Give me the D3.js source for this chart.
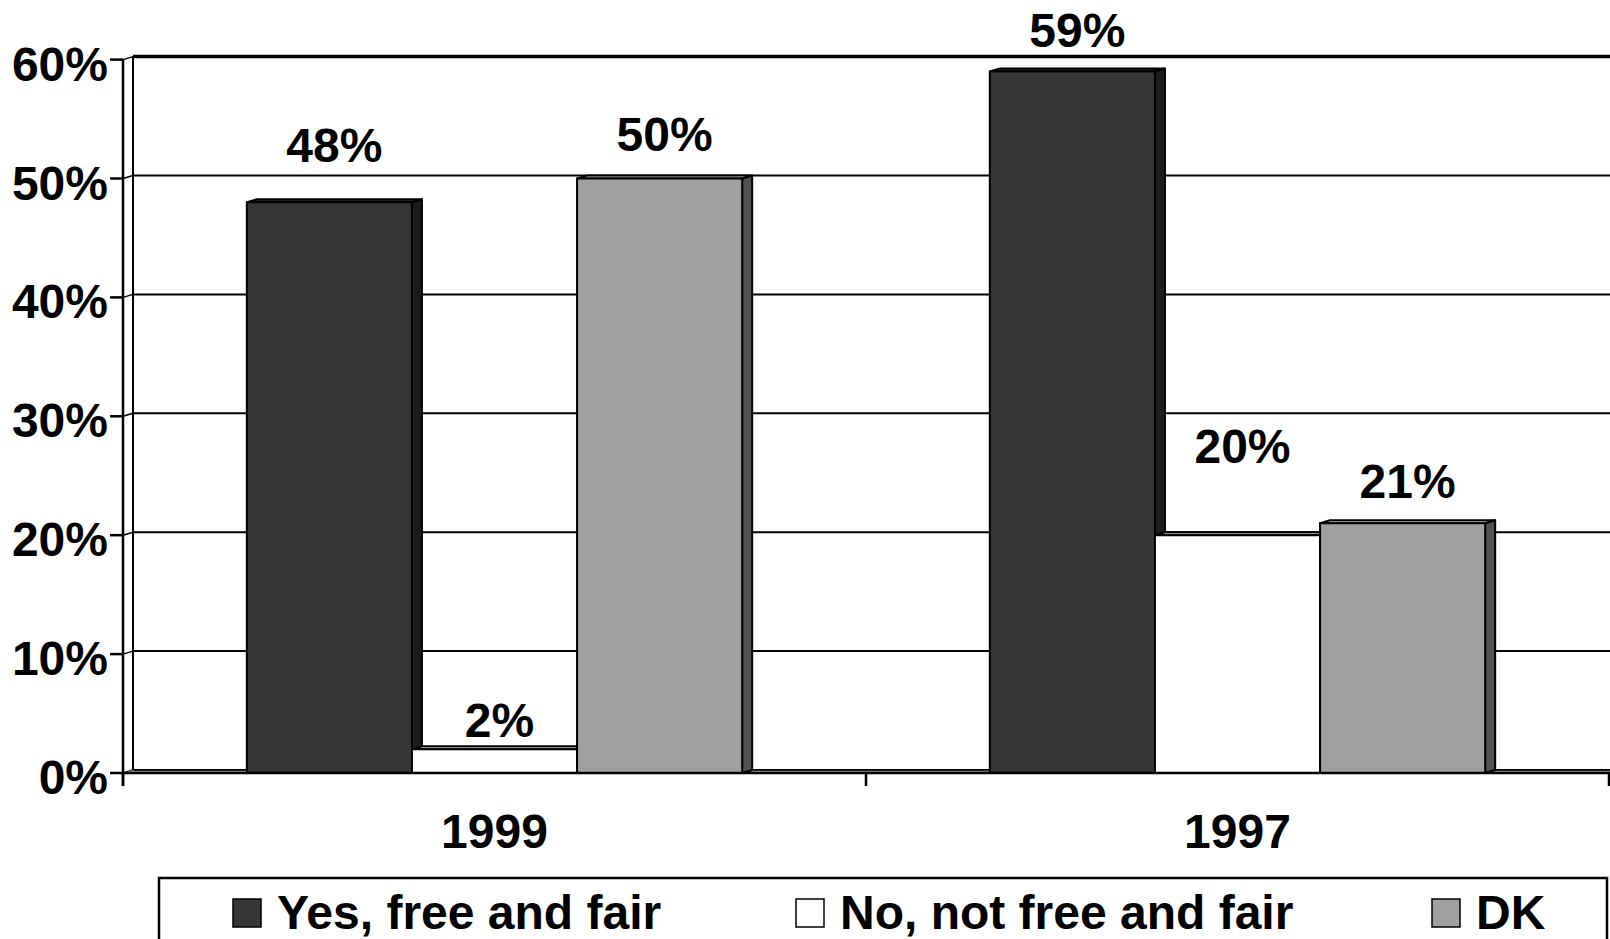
<!DOCTYPE html>
<html>
<head>
<meta charset="utf-8">
<script src="https://cdn.jsdelivr.net/npm/d3@7"></script>
<style>
  html, body { margin: 0; padding: 0; background: #fff; }
  svg { display: block; }
  text { font-family: "Liberation Sans", Arial, sans-serif; font-weight: bold; fill: #000; }
</style>
</head>
<body>
<svg id="chart" width="1610" height="939"></svg>
<script>
// Survey answers, percent of respondents
const categories = ["1999", "1997"];
const seriesNames = ["Yes, free and fair", "No, not free and fair", "DK"];
const yesValues = [48, 59];
const noValues = [2, 20];
const dkValues = [50, 21];
const yTicks = [0, 10, 20, 30, 40, 50, 60];

const seriesValues = [yesValues, noValues, dkValues];

// Face colours per series: front, side, top
const faceColors = [
  { front: "#363636", side: "#1c1c1c", top: "#2a2a2a" },
  { front: "#ffffff", side: "#c0c0c0", top: "#c0c0c0" },
  { front: "#a0a0a0", side: "#525252", top: "#c4c4c4" }
];

// Distance from a bar's front top edge up to its label baseline
const labelGap = [[40, 12, 28], [24, 72, 25]];

const W = 1610, H = 939;
const left = 123, right = 1609, base = 773;
const depthX = 10, depthY = -3;
const fontSize = 48;

const svg = d3.select("#chart");

const x0 = d3.scaleBand().domain(categories).range([left, right]).padding(0);
const bw = x0.bandwidth();
const barW = bw / 4.5;
const x1 = d3.scaleBand().domain(seriesNames).range([0.75 * barW, 3.75 * barW]).padding(0);
const y = d3.scaleLinear().domain([0, 60]).range([base, 59.6]);

// Back wall gridlines
const grid = svg.append("g");
yTicks.forEach(t => {
  const yy = y(t) + depthY;
  grid.append("line")
    .attr("x1", left + depthX).attr("x2", W + 20)
    .attr("y1", yy).attr("y2", yy)
    .attr("stroke", "#000").attr("stroke-width", t === 60 ? 3.5 : 2);
  // side wall diagonal joining the tick to the back wall
  grid.append("line")
    .attr("x1", left).attr("y1", y(t))
    .attr("x2", left + depthX).attr("y2", yy)
    .attr("stroke", "#000").attr("stroke-width", 1.5);
});
// Back edge of the side wall
grid.append("line")
  .attr("x1", left + depthX).attr("x2", left + depthX)
  .attr("y1", y(60) + depthY).attr("y2", y(0) + depthY)
  .attr("stroke", "#000").attr("stroke-width", 2);

// Floor
svg.append("path")
  .attr("d", `M${left},${base} L${left + depthX},${base + depthY} L${W + 20},${base + depthY} L${W + 20},${base} Z`)
  .attr("fill", "#9a9a9a").attr("stroke", "none");
svg.append("line")
  .attr("x1", left + depthX).attr("x2", W + 20)
  .attr("y1", base + depthY).attr("y2", base + depthY)
  .attr("stroke", "#000").attr("stroke-width", 1.5);

// Bars as shallow boxes, drawn left to right so later boxes cover earlier sides
const bars = svg.append("g");
categories.forEach((cat, ci) => {
  seriesNames.forEach((s, si) => {
    const v = seriesValues[si][ci];
    const bx0 = x0(cat) + x1(s);
    const bx1 = bx0 + x1.bandwidth();
    const top = y(v);
    const c = faceColors[si];
    const g = bars.append("g").attr("stroke", "#000").attr("stroke-width", 2).attr("stroke-linejoin", "round");
    g.append("path")
      .attr("d", `M${bx1},${top} L${bx1 + depthX},${top + depthY} L${bx1 + depthX},${base + depthY} L${bx1},${base} Z`)
      .attr("fill", c.side);
    g.append("path")
      .attr("d", `M${bx0},${top} L${bx0 + depthX},${top + depthY} L${bx1 + depthX},${top + depthY} L${bx1},${top} Z`)
      .attr("fill", c.top);
    g.append("rect")
      .attr("x", bx0).attr("y", top)
      .attr("width", bx1 - bx0).attr("height", base - top)
      .attr("fill", c.front);
  });
});

// Value axis (front edge)
const axis = svg.append("g").attr("stroke", "#000");
axis.append("line")
  .attr("x1", left).attr("x2", left)
  .attr("y1", y(60)).attr("y2", base + 13)
  .attr("stroke-width", 2.5);
yTicks.forEach(t => {
  axis.append("line")
    .attr("x1", left - 13).attr("x2", left)
    .attr("y1", y(t)).attr("y2", y(t))
    .attr("stroke-width", 2.5);
});
svg.append("g").selectAll("text").data(yTicks).join("text")
  .attr("x", 108).attr("y", d => y(d) + 21)
  .attr("text-anchor", "end")
  .attr("font-size", fontSize)
  .text(d => d + "%");

// Category axis
axis.append("line")
  .attr("x1", left).attr("x2", W + 20)
  .attr("y1", base).attr("y2", base)
  .attr("stroke-width", 2.5);
[left, left + bw, left + 2 * bw].forEach(xx => {
  axis.append("line")
    .attr("x1", xx).attr("x2", xx)
    .attr("y1", base).attr("y2", base + 13)
    .attr("stroke-width", 2.5);
});
svg.append("g").selectAll("text").data(categories).join("text")
  .attr("x", d => x0(d) + bw / 2)
  .attr("y", 848)
  .attr("text-anchor", "middle")
  .attr("font-size", fontSize)
  .text(d => d);

// Value labels
const labels = svg.append("g");
categories.forEach((cat, ci) => {
  seriesNames.forEach((s, si) => {
    const v = seriesValues[si][ci];
    const cx = x0(cat) + x1(s) + x1.bandwidth() / 2 + depthX / 2;
    labels.append("text")
      .attr("x", cx)
      .attr("y", y(v) - labelGap[ci][si])
      .attr("text-anchor", "middle")
      .attr("font-size", fontSize)
      .text(v + "%");
  });
});

// Legend
const legendX = [233, 796, 1432];
const legend = svg.append("g");
legend.append("rect")
  .attr("x", 159).attr("y", 878)
  .attr("width", 1448).attr("height", 120)
  .attr("fill", "#fff").attr("stroke", "#000").attr("stroke-width", 2.5);
seriesNames.forEach((s, i) => {
  legend.append("rect")
    .attr("x", legendX[i]).attr("y", 899)
    .attr("width", 28).attr("height", 28)
    .attr("fill", faceColors[i].front)
    .attr("stroke", "#000").attr("stroke-width", 1.5);
  legend.append("text")
    .attr("x", legendX[i] + 44).attr("y", 929)
    .attr("font-size", fontSize)
    .text(s);
});
</script>
</body>
</html>
